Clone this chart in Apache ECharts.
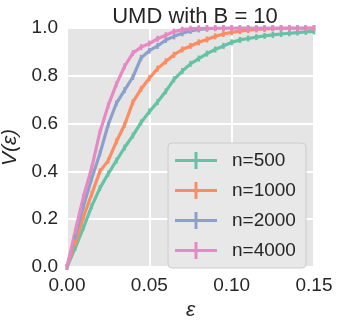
<!DOCTYPE html>
<html>
<head>
<meta charset="utf-8">
<script src="https://cdn.jsdelivr.net/npm/echarts@6/dist/echarts.min.js"></script>
<style>
	html, body { margin: 0; padding: 0; background: #fff; }
	#main { width: 341px; height: 325px; }
</style>
</head>
<body>
<div id="main"></div>
<script>
// epsilon values, step 0.005
let eps = [];
for (let i = 0; i <= 30; i++) {
	eps.push(+(i * 0.005).toFixed(3));
}

const names = ['n=500', 'n=1000', 'n=2000', 'n=4000'];
const colors = ['#66c2a5', '#fc8d62', '#8da0cb', '#e78ac3'];

const v500 = [0, 0.08, 0.165, 0.255, 0.33, 0.39, 0.445, 0.5, 0.55, 0.605, 0.65,
	0.69, 0.735, 0.785, 0.82, 0.85, 0.872, 0.893, 0.91, 0.925, 0.94,
	0.95, 0.956, 0.962, 0.967, 0.971, 0.975, 0.978, 0.981, 0.984, 0.986];
const v1000 = [0, 0.1, 0.21, 0.305, 0.4, 0.445, 0.525, 0.595, 0.69, 0.745, 0.79,
	0.83, 0.86, 0.888, 0.91, 0.925, 0.94, 0.952, 0.965, 0.975, 0.982,
	0.987, 0.991, 0.994, 0.996, 0.998, 0.999, 1, 1, 1, 1];
const v2000 = [0, 0.13, 0.255, 0.37, 0.475, 0.595, 0.685, 0.74, 0.795, 0.875, 0.905,
	0.925, 0.95, 0.965, 0.978, 0.988, 0.994, 0.997, 0.999, 1, 1,
	1, 1, 1, 1, 1, 1, 1, 1, 1, 1];
const v4000 = [0, 0.15, 0.295, 0.415, 0.565, 0.675, 0.765, 0.84, 0.895, 0.92, 0.935,
	0.955, 0.97, 0.985, 0.993, 0.997, 0.999, 1, 1, 1, 1,
	1, 1, 1, 1, 1, 1, 1, 1, 1, 1];

const xTicks = [0, 0.05, 0.10, 0.15];
const yTicks = [0, 0.2, 0.4, 0.6, 0.8, 1.0];

const allValues = [v500, v1000, v2000, v4000];
const font = 'Liberation Sans';

let series = [];
for (let k = 0; k < names.length; k++) {
	series.push({
		name: names[k],
		type: 'line',
		data: eps.map((e, i) => [e, allValues[k][i]]),
		symbol: 'rect',
		symbolSize: [2.5, 6],
		showAllSymbol: true,
		lineStyle: { width: 3.2, color: colors[k] },
		itemStyle: { color: colors[k] },
		emphasis: { disabled: true },
		animation: false
	});
}

let myChart = echarts.init(document.getElementById('main'));
let option = {
	animation: false,
	title: {
		text: 'UMD with B = 10',
		left: 190,
		textAlign: 'center',
		top: 1,
		textStyle: { fontFamily: font, fontSize: 22, fontWeight: 'normal', color: '#262626' }
	},
	grid: {
		left: 67, right: 27, top: 28, bottom: 58,
		outerBoundsMode: 'none',
		containLabel: false,
		show: true, backgroundColor: '#e5e5e5', borderWidth: 0
	},
	xAxis: {
		type: 'value',
		min: xTicks[0],
		max: xTicks[xTicks.length - 1],
		interval: 0.05,
		name: 'ε',
		nameLocation: 'middle',
		nameGap: 30,
		nameTextStyle: { fontFamily: font, fontSize: 21, fontStyle: 'italic', color: '#262626' },
		axisLine: { show: false },
		axisTick: { show: false },
		axisLabel: { fontFamily: font, fontSize: 19, color: '#262626', margin: 9, formatter: v => v.toFixed(2) },
		splitLine: { show: true, lineStyle: { color: '#ffffff', width: 2 } }
	},
	yAxis: {
		type: 'value',
		min: yTicks[0],
		max: yTicks[yTicks.length - 1],
		interval: 0.2,
		name: 'V(ε)',
		nameLocation: 'middle',
		nameGap: 43,
		nameTextStyle: { fontFamily: font, fontSize: 21, fontStyle: 'italic', color: '#262626' },
		axisLine: { show: false },
		axisTick: { show: false },
		axisLabel: { fontFamily: font, fontSize: 19, color: '#262626', margin: 9, formatter: v => v.toFixed(1) },
		splitLine: { show: true, lineStyle: { color: '#ffffff', width: 2 } }
	},
	legend: {
		orient: 'vertical',
		left: 168,
		top: 143,
		width: 137,
		padding: [8, 10, 8, 7],
		itemWidth: 42,
		itemHeight: 17,
		itemGap: 11,
		icon: 'path://M0,7 L42,7 L42,10 L0,10 Z M19.5,0 L22.5,0 L22.5,17 L19.5,17 Z',
		backgroundColor: '#e8e8e8',
		borderColor: '#cccccc',
		borderWidth: 1,
		borderRadius: 4,
		textStyle: { fontFamily: font, fontSize: 19, color: '#262626', padding: [0, 0, 0, 10] },
		data: names
	},
	series: series
};
myChart.setOption(option);
</script>
</body>
</html>
